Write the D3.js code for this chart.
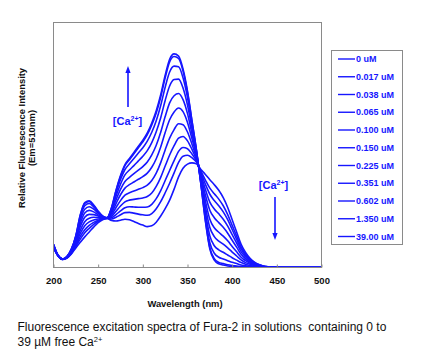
<!DOCTYPE html>
<html>
<head>
<meta charset="utf-8">
<script src="https://cdn.jsdelivr.net/npm/d3@7"></script>
<style>
  body { margin: 0; background: #fff; }
  svg { display: block; font-family: "Liberation Sans", Arial, sans-serif; }
</style>
</head>
<body>
<svg id="chart" width="430" height="351"></svg>
<script>
/* wavelengths (nm) the spectra were read at */
var wavelengths = [200,205,210,215,220,225,230,235,240,245,250,255,260,265,270,275,280,285,290,295,
  300,305,310,315,320,325,330,335,340,345,350,355,360,365,370,375,380,385,390,395,
  400,405,410,415,420,425,430,435,440,445,450,460,475,500];

/* relative intensity, one array per free Ca2+ concentration */
var s0  = [8.0,4.8,3.3,3.8,5.5,8.0,10.3,12.5,14.5,16.5,18.3,19.5,20.0,19.2,19.0,19.3,19.7,19.5,18.8,18.0,17.3,16.7,17.0,18.5,21.0,24.0,27.5,32.0,37.0,40.5,42.2,42.7,42.3,40.0,38.0,35.8,33.8,31.5,28.5,24.5,19.5,14.5,9.5,6.2,3.8,2.2,1.2,0.6,0.3,0.15,0.05,0,0,0];
var s1  = [8.2,4.8,3.3,3.9,5.7,8.6,11.6,14.2,16.0,17.6,18.9,19.7,20.0,19.8,20.5,21.5,22.4,22.5,22.2,21.8,21.5,21.3,22.0,24.0,26.9,30.5,34.4,38.6,42.9,45.4,45.8,44.8,43.0,39.3,35.7,32.4,30.1,27.9,25.2,21.6,17.2,12.8,8.4,5.5,3.4,2.0,1.1,0.5,0.3,0.1,0,0,0,0];
var s2  = [8.3,4.8,3.3,4.0,5.9,9.1,12.7,15.4,17.2,18.4,19.3,19.8,20.1,20.3,21.6,23.1,24.4,24.8,24.7,24.6,24.6,24.7,25.8,28.1,31.4,35.5,39.6,43.6,47.4,49.0,48.5,46.3,43.5,38.7,34.0,29.9,27.3,25.2,22.7,19.5,15.5,11.5,7.6,4.9,3.0,1.8,1.0,0.5,0.2,0.1,0,0,0,0];
var s3  = [8.5,4.9,3.4,4.0,6.1,9.6,13.9,17.0,18.6,19.4,19.8,20.0,20.1,20.9,23.0,25.1,26.8,27.5,27.8,28.1,28.4,29.0,30.4,33.1,36.8,41.4,45.9,49.7,52.8,53.5,51.7,48.2,44.1,38.1,31.9,26.7,23.9,21.9,19.7,16.9,13.4,10.0,6.5,4.3,2.6,1.5,0.8,0.4,0.2,0.1,0,0,0,0];
var s4  = [8.7,4.9,3.4,4.1,6.4,10.2,15.2,18.7,20.1,20.5,20.4,20.2,20.1,21.5,24.5,27.3,29.5,30.5,31.2,31.9,32.6,33.6,35.5,38.5,42.8,48.0,52.8,56.3,58.7,58.3,55.3,50.3,44.8,37.4,29.6,23.4,20.3,18.3,16.4,14.0,11.1,8.3,5.4,3.5,2.2,1.3,0.7,0.3,0.2,0.1,0,0,0,0];
var s5  = [8.9,4.9,3.4,4.2,6.6,10.9,16.7,20.5,21.7,21.6,21.0,20.4,20.2,22.2,26.1,29.7,32.4,33.8,34.9,36.0,37.1,38.5,40.9,44.4,49.2,55.1,60.3,63.5,65.1,63.6,59.2,52.6,45.6,36.6,27.2,19.7,16.2,14.4,12.8,10.9,8.6,6.4,4.2,2.8,1.7,1.0,0.5,0.3,0.1,0.1,0,0,0,0];
var s6  = [9.0,4.9,3.4,4.3,6.9,11.5,18.0,22.2,23.3,22.7,21.5,20.5,20.2,22.9,27.6,31.9,35.1,36.8,38.3,39.7,41.2,43.1,46.0,49.9,55.2,61.6,67.2,70.1,71.0,68.5,62.8,54.6,46.2,35.9,24.9,16.3,12.6,10.8,9.5,8.0,6.3,4.7,3.1,2.0,1.3,0.8,0.4,0.2,0.1,0,0,0,0,0];
var s7  = [9.2,5.0,3.5,4.4,7.1,12.1,19.4,23.8,24.8,23.8,22.1,20.7,20.2,23.5,29.1,34.0,37.8,39.8,41.6,43.5,45.4,47.7,51.0,55.4,61.1,68.2,74.1,76.7,76.9,73.3,66.3,56.7,46.9,35.1,22.6,12.9,8.9,7.2,6.2,5.1,4.0,3.0,2.0,1.3,0.8,0.5,0.3,0.1,0.1,0,0,0,0,0];
var s8  = [9.4,5.0,3.5,4.4,7.3,12.6,20.5,25.2,26.1,24.7,22.6,20.9,20.3,24.0,30.4,35.9,40.0,42.3,44.5,46.7,48.9,51.6,55.2,59.9,66.1,73.6,79.8,82.2,81.9,77.4,69.3,58.4,47.5,34.5,20.7,10.1,5.8,4.2,3.5,2.8,2.1,1.6,1.0,0.7,0.4,0.3,0.2,0.1,0,0,0,0,0,0];
var s9  = [9.5,5.0,3.5,4.5,7.5,12.9,21.3,26.2,27.0,25.3,22.9,21.0,20.3,24.4,31.3,37.1,41.6,44.0,46.4,48.9,51.3,54.2,58.2,63.1,69.5,77.4,83.9,86.1,85.3,80.2,71.4,59.7,47.9,34.1,19.4,8.1,3.6,2.1,1.6,1.1,0.8,0.6,0.4,0.3,0.2,0.1,0.1,0,0,0,0,0,0,0];
var s10 = [9.5,5.0,3.5,4.5,7.5,13.0,21.5,26.5,27.2,25.5,23.0,21.0,20.3,24.5,31.5,37.5,42.0,44.5,47.0,49.5,52.0,55.0,59.0,64.0,70.5,78.5,85.0,87.2,86.3,81.0,72.0,60.0,48.0,34.0,19.0,7.5,3.0,1.5,1.0,0.6,0.4,0.3,0.2,0.15,0.1,0.1,0.05,0,0,0,0,0,0,0];

var concLabels = ["0 uM","0.017 uM","0.038 uM","0.065 uM","0.100 uM","0.150 uM","0.225 uM","0.351 uM","0.602 uM","1.350 uM","39.00 uM"];
var xTicks = [200,250,300,350,400,450,500];

var series = [s0,s1,s2,s3,s4,s5,s6,s7,s8,s9,s10];

var blue = "#1616ff";
var frameGray = "#8a8a8a";
var plot = {left: 53.5, right: 321.5, top: 22.5, bottom: 267.5};

var svg = d3.select("#chart");

var x = d3.scaleLinear().domain([200, 500]).range([plot.left, plot.right]);
var y = d3.scaleLinear().domain([0, 100]).range([plot.bottom, plot.top]);

svg.append("defs").append("clipPath").attr("id", "clip")
  .append("rect")
  .attr("x", plot.left).attr("y", plot.top)
  .attr("width", plot.right - plot.left).attr("height", plot.bottom - plot.top);

/* spectra */
var line = d3.line()
  .x(function(d, i) { return x(wavelengths[i]); })
  .y(function(d) { return y(d); })
  .curve(d3.curveMonotoneX);

svg.append("g").attr("clip-path", "url(#clip)")
  .selectAll("path")
  .data(series)
  .enter()
  .append("path")
  .attr("d", line)
  .attr("fill", "none")
  .attr("stroke", blue)
  .attr("stroke-width", 1.6)
  .attr("stroke-linejoin", "round");

/* frame */
svg.append("rect")
  .attr("x", plot.left).attr("y", plot.top)
  .attr("width", plot.right - plot.left).attr("height", plot.bottom - plot.top)
  .attr("fill", "none").attr("stroke", frameGray).attr("stroke-width", 1);

/* x axis, ticks point inwards */
var xAxis = svg.append("g")
  .attr("transform", "translate(0," + plot.bottom + ")")
  .call(d3.axisBottom(x).tickValues(xTicks).tickSizeInner(-3).tickSizeOuter(0).tickPadding(10));
xAxis.select(".domain").remove();
xAxis.selectAll("line").attr("stroke", frameGray);
xAxis.selectAll("text")
  .attr("fill", "#111")
  .style("font-size", "9.5px")
  .style("font-weight", "bold");

svg.append("text")
  .attr("x", 185).attr("y", 306.5)
  .attr("text-anchor", "middle")
  .style("font-size", "9.4px").style("font-weight", "bold")
  .attr("fill", "#111")
  .text("Wavelength (nm)");

/* y axis title, two lines */
var yTitle = svg.append("g").attr("transform", "translate(0,138) rotate(-90)");
yTitle.append("text")
  .attr("x", 0).attr("y", 25)
  .attr("text-anchor", "middle")
  .style("font-size", "9.4px").style("font-weight", "bold")
  .attr("fill", "#111")
  .text("Relative Fluorescence Intensity");
yTitle.append("text")
  .attr("x", 0).attr("y", 35)
  .attr("text-anchor", "middle")
  .style("font-size", "9.4px").style("font-weight", "bold")
  .attr("fill", "#111")
  .text("(Em=510nm)");

/* [Ca2+] arrows */
function caLabel(cx, by) {
  var t = svg.append("text")
    .attr("x", cx).attr("y", by)
    .attr("text-anchor", "middle")
    .attr("fill", blue)
    .style("font-size", "11px").style("font-weight", "bold");
  t.append("tspan").text("[Ca");
  t.append("tspan").attr("dy", -3.5).style("font-size", "7px").text("2+");
  t.append("tspan").attr("dy", 3.5).text("]");
}
function arrow(ax, y0, y1) {
  var dir = y1 < y0 ? -1 : 1;
  svg.append("line")
    .attr("x1", ax).attr("x2", ax)
    .attr("y1", y0).attr("y2", y1 - dir * 5)
    .attr("stroke", blue).attr("stroke-width", 1.6);
  svg.append("path")
    .attr("d", "M" + ax + "," + y1 + "L" + (ax - 2.6) + "," + (y1 - dir * 7) + "L" + (ax + 2.6) + "," + (y1 - dir * 7) + "Z")
    .attr("fill", blue);
}
arrow(128, 107, 66);
caLabel(127.5, 124.5);
arrow(275, 197, 240);
caLabel(273.5, 188.5);

/* legend */
var legend = svg.append("g");
legend.append("rect")
  .attr("x", 331.5).attr("y", 50.5)
  .attr("width", 71).attr("height", 194)
  .attr("fill", "#fff").attr("stroke", frameGray).attr("stroke-width", 1);
var rows = legend.selectAll("g.row")
  .data(concLabels)
  .enter()
  .append("g")
  .attr("class", "row")
  .attr("transform", function(d, i) { return "translate(0," + (59 + i * 17.75) + ")"; });
rows.append("line")
  .attr("x1", 338).attr("x2", 355)
  .attr("y1", 0).attr("y2", 0)
  .attr("stroke", blue).attr("stroke-width", 1.4);
rows.append("text")
  .attr("x", 356).attr("y", 3.2)
  .attr("fill", blue)
  .style("font-size", "9px").style("font-weight", "bold")
  .text(function(d) { return d; });

/* caption */
svg.append("text")
  .attr("x", 17.5).attr("y", 331)
  .attr("fill", "#111")
  .style("font-size", "12px")
  .style("white-space", "pre")
  .text("Fluorescence excitation spectra of Fura-2 in solutions  containing 0 to");
var cap2 = svg.append("text")
  .attr("x", 17.5).attr("y", 346)
  .attr("fill", "#111")
  .style("font-size", "12px")
  .style("white-space", "pre");
cap2.append("tspan").text("39 \u00b5M free Ca");
cap2.append("tspan").attr("dy", -4).style("font-size", "7.5px").text("2+");
</script>
</body>
</html>
